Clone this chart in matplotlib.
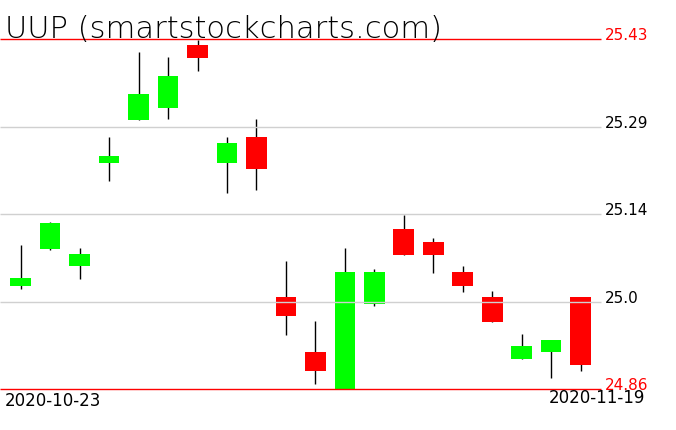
import matplotlib
matplotlib.use('Agg')
import matplotlib.pyplot as plt
from matplotlib.patches import Rectangle

# ─── DATOS ───────────────────────────────────────────────────
TITULO = "UUP (smartstockcharts.com)"
FECHA_INI = "2020-10-23"
FECHA_FIN = "2020-11-19"

abre   = [25.028, 25.088, 25.060, 25.229, 25.299, 25.318, 25.421, 25.229, 25.271, 25.010,
          24.921, 24.860, 24.999, 25.121, 25.100, 25.051, 25.010, 24.910, 24.920, 25.010]
maximo = [25.095, 25.132, 25.090, 25.271, 25.409, 25.401, 25.429, 25.271, 25.300, 25.069,
          24.971, 25.090, 25.056, 25.144, 25.106, 25.061, 25.020, 24.950, 24.940, 25.010]
minimo = [25.023, 25.087, 25.040, 25.200, 25.299, 25.301, 25.378, 25.179, 25.185, 24.949,
          24.869, 24.860, 24.995, 25.079, 25.050, 25.019, 24.970, 24.910, 24.879, 24.889]
cierre = [25.041, 25.131, 25.080, 25.240, 25.341, 25.370, 25.400, 25.261, 25.219, 24.980,
          24.889, 25.051, 25.051, 25.079, 25.079, 25.029, 24.970, 24.931, 24.940, 24.900]

Y_MAX = 25.43
Y_MIN = 24.86
etiquetas_y = ["25.43", "25.29", "25.14", "25.0", "24.86"]
# ─────────────────────────────────────────────────────────────

VERDE = '#00ff00'
ROJO = '#ff0000'
GRIS = '#d0d0d0'

W, H = 676, 431
fig = plt.figure(figsize=(W / 100, H / 100), dpi=100)
fig.patch.set_facecolor('white')
ax = fig.add_axes([0, 0, 1, 1])
ax.set_axis_off()

# escala: 25.43 en y=40.3 px, 24.86 en y=390.3 px; velas cada 29.47 px desde x=20.7
px_y = (Y_MAX - Y_MIN) / 350.0
ax.set_ylim(Y_MIN - (H - 390.3) * px_y, Y_MAX + 40.3 * px_y)
paso = 29.47
ax.set_xlim(-20.7 / paso, (W - 20.7) / paso)

fin_lineas = (600.5 - 20.7) / paso
x_texto = (605 - 20.7) / paso

# velas
ancho = 0.70
for i in range(len(abre)):
    sube = cierre[i] >= abre[i]
    color = VERDE if sube else ROJO
    ax.plot([i, i], [minimo[i], maximo[i]], color='black', lw=1.0, zorder=1,
            solid_capstyle='butt')
    y0 = min(abre[i], cierre[i])
    alto = abs(cierre[i] - abre[i])
    ax.add_patch(Rectangle((i - ancho / 2, y0), ancho, alto, facecolor=color,
                           edgecolor='none', zorder=2))

# niveles: max y min en rojo, intermedios en gris
niveles = [Y_MAX - (Y_MAX - Y_MIN) * q for q in (0, 0.25, 0.5, 0.75, 1)]
for j, (nivel, txt) in enumerate(zip(niveles, etiquetas_y)):
    extremo = j in (0, len(niveles) - 1)
    c = ROJO if extremo else GRIS
    ax.plot([ax.get_xlim()[0], fin_lineas], [nivel, nivel], color=c, lw=1.0,
            zorder=3, solid_capstyle='butt')
    ax.text(x_texto, nivel, txt, color=ROJO if extremo else 'black',
            fontsize=11, va='baseline', ha='left', zorder=4)

# titulo y fechas
fig.text(5 / W, 1 - 38 / H, TITULO, fontsize=22, fontweight='light',
         va='baseline', ha='left', color='black')
fig.text(5 / W, 1 - 406.5 / H, FECHA_INI, fontsize=12, va='baseline', ha='left')
fig.text(645 / W, 1 - 403 / H, FECHA_FIN, fontsize=12, va='baseline', ha='right')

fig.savefig('out.png', dpi=100)
